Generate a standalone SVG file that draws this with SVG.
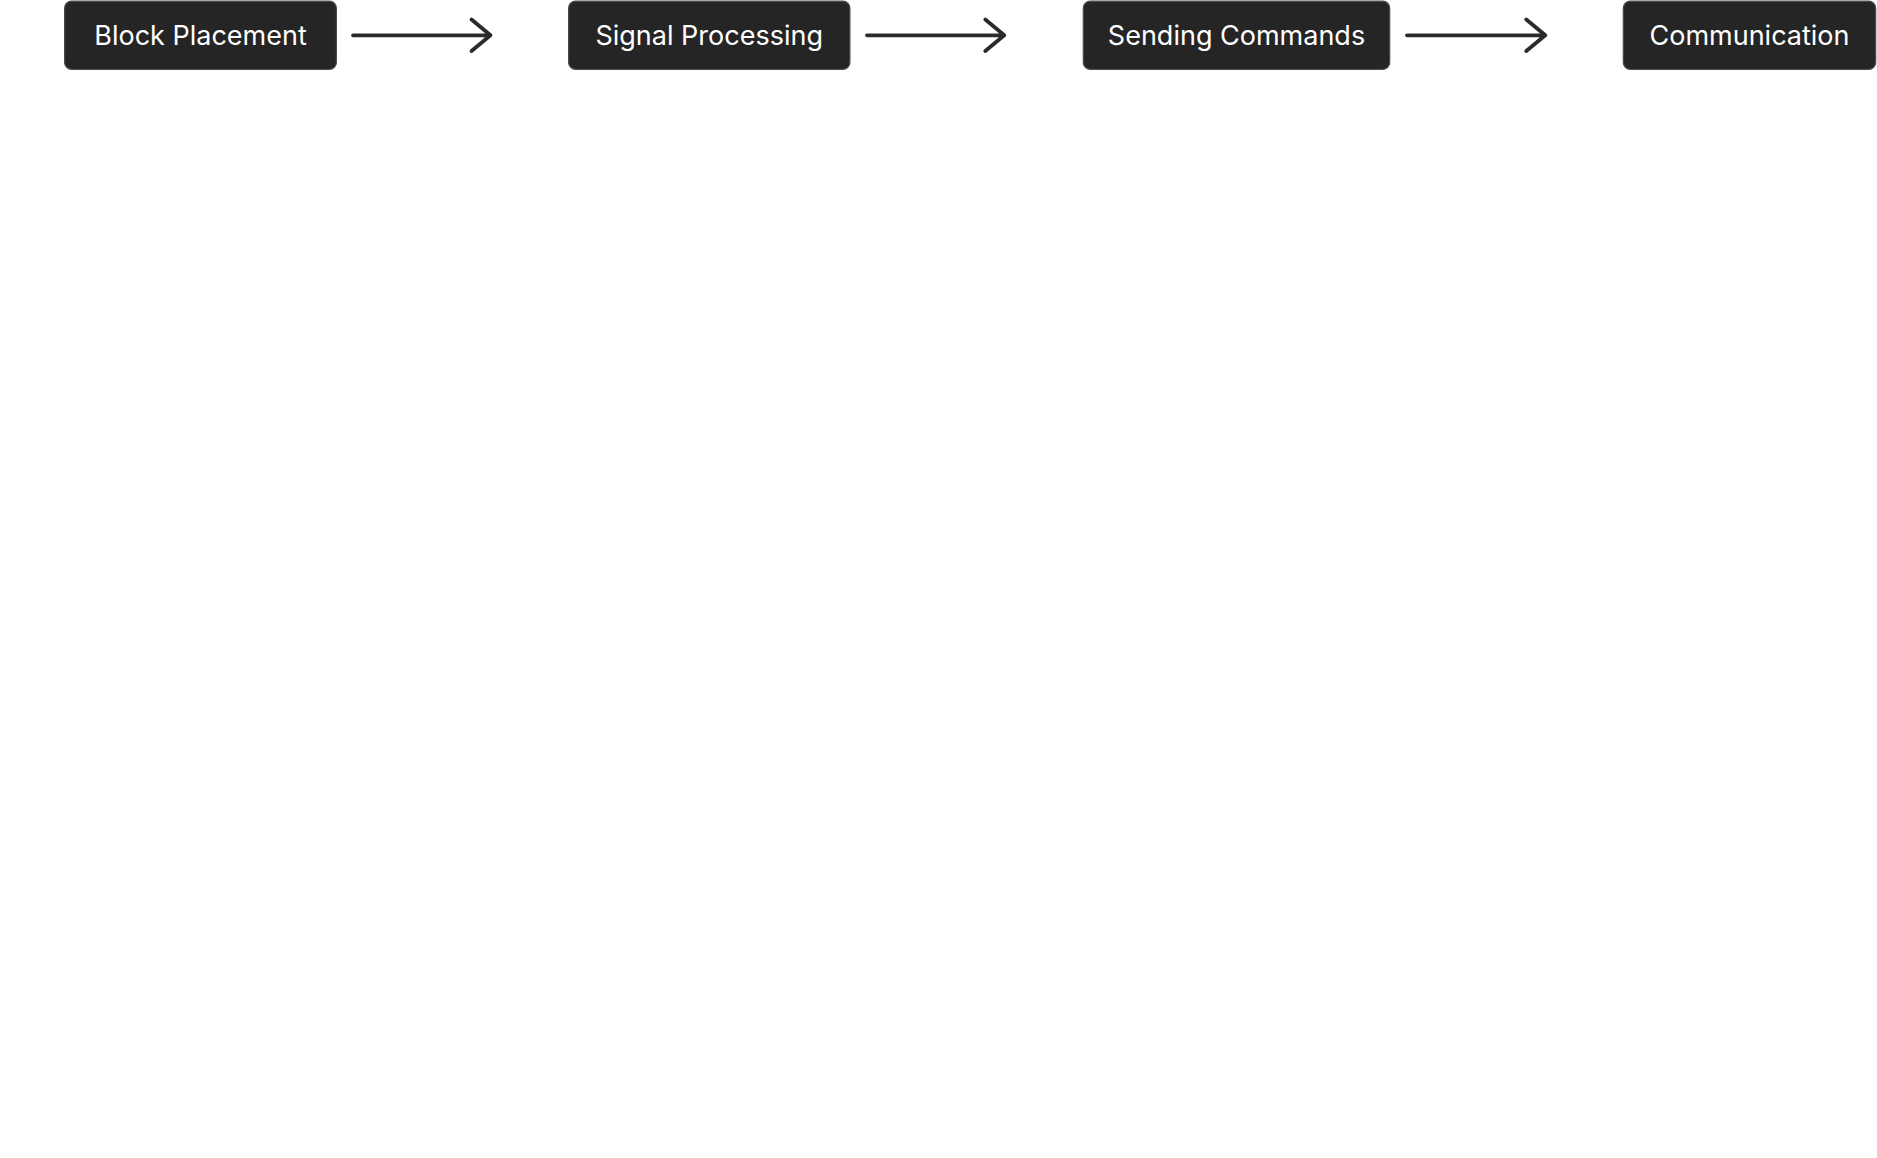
<svg xmlns="http://www.w3.org/2000/svg" width="1877" height="1158" viewBox="0 0 1877 1158">
<style>
.box{fill:#252525;stroke:#4a4a4a;stroke-width:1.2}
.lbl{fill:#ffffff;font-family:Inter,"Liberation Sans",sans-serif;font-size:27px;text-anchor:middle;dominant-baseline:central}
.edge{fill:none;stroke:#2b2b2b;stroke-width:3.8;stroke-linecap:round;stroke-linejoin:round}
</style>
<rect width="1877" height="1158" fill="#ffffff"/>
<g id="node-block-placement">
<rect class="box" x="64.6" y="1.2" width="271.8" height="68.2" rx="7"/>
<text class="lbl" x="200.5" y="35.3">Block Placement</text>
</g>
<g id="node-signal-processing">
<rect class="box" x="568.6" y="1.2" width="281.3" height="68.2" rx="7"/>
<text class="lbl" x="709.2" y="35.3">Signal Processing</text>
</g>
<g id="node-sending-commands">
<rect class="box" x="1083.3" y="1.2" width="306.4" height="68.2" rx="7"/>
<text class="lbl" x="1236.5" y="35.3">Sending Commands</text>
</g>
<g id="node-communication">
<rect class="box" x="1623.3" y="1.2" width="252.4" height="68.2" rx="7"/>
<text class="lbl" x="1749.5" y="35.3">Communication</text>
</g>
<g id="connectors">
<path class="edge" d="M353 35.3 H490.5 M471.5 19.5 L490.5 35.3 L471.5 51"/>
<path class="edge" d="M867 35.3 H1004.3 M985.3 19.5 L1004.3 35.3 L985.3 51"/>
<path class="edge" d="M1407 35.3 H1545.3 M1526.3 19.5 L1545.3 35.3 L1526.3 51"/>
</g>
</svg>
